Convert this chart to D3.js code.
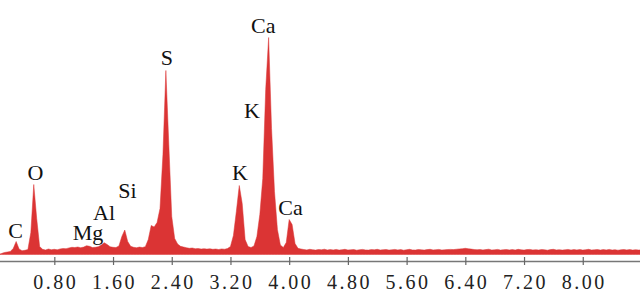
<!DOCTYPE html>
<html>
<head>
<meta charset="utf-8">
<script src="https://cdn.jsdelivr.net/npm/d3@7"></script>
<style>
  html, body { margin: 0; padding: 0; background: #fff; }
  svg { display: block; }
</style>
</head>
<body>
<div id="chart"></div>
<script>
// EDS spectrum, counts per 0.04 keV channel starting at 0 keV
const channelWidth = 0.04;
const counts = [
  0, 0, 10, 20, 25, 30, 60, 130, 55, 38,
  42, 50, 220, 700, 360, 80, 52, 45, 55, 48,
  52, 47, 56, 60, 58, 66, 72, 70, 75, 68,
  74, 88, 82, 70, 72, 78, 95, 118, 100, 78,
  72, 70, 85, 180, 245, 130, 82, 72, 68, 74,
  70, 78, 150, 290, 275, 320, 460, 1000, 1840, 1100,
  380, 160, 105, 82, 75, 68, 62, 65, 58, 60,
  55, 58, 54, 57, 52, 55, 50, 56, 53, 60,
  80, 190, 430, 690, 510, 150, 80, 70, 85, 180,
  400, 760, 1650, 2170, 1260, 630, 250, 95, 70, 120,
  350, 300, 110, 62, 55, 50, 46, 52, 48, 44,
  50, 47, 53, 45, 49, 46, 51, 44, 48, 52,
  45, 47, 50, 43, 48, 51, 46, 44, 49, 47,
  52, 45, 48, 50, 44, 47, 51, 46, 49, 43,
  48, 52, 46, 45, 50, 47, 44, 49, 52, 46,
  48, 51, 45, 47, 50, 51, 49, 53, 56, 58,
  62, 58, 54, 50, 48, 50, 46, 49, 53, 45,
  47, 51, 44, 48, 50, 46, 49, 45, 52, 47,
  44, 49, 51, 46, 48, 45, 50, 47, 43, 49,
  52, 46, 48, 44, 47, 51, 45, 49, 46, 50,
  44, 48, 52, 45, 47, 50, 44, 49, 46, 51,
  45, 48, 43, 47, 50, 46, 49, 44, 48, 45,
  47
];

// x axis ticks (keV)
const tickValues = [0.8, 1.6, 2.4, 3.2, 4.0, 4.8, 5.6, 6.4, 7.2, 8.0];

// element labels, placed at (energy, count) of the text baseline
const labelNames = ['C', 'O', 'Mg', 'Al', 'Si', 'S', 'K', 'Ca', 'K', 'Ca'];
const labelEnergies = [0.271, 0.544, 1.259, 1.477, 1.797, 2.335, 3.330, 3.648, 3.494, 4.018];
const labelCounts = [165, 745, 145, 345, 565, 1895, 745, 2215, 1365, 395];

const width = 640, height = 307;
const red = '#db3434';

const svg = d3.select('#chart').append('svg')
  .attr('width', width)
  .attr('height', height);

const xScale = d3.scaleLinear().domain([0, 8.78]).range([-4.4, 640]);
const yScale = d3.scaleLinear().domain([0, 2200]).range([254.5, 34.5]);

const area = d3.area()
  .x((d, i) => xScale(i * channelWidth))
  .y0(yScale(0))
  .y1(d => yScale(d));

svg.append('path')
  .datum(counts)
  .attr('d', area)
  .attr('fill', red)
  .attr('stroke', red)
  .attr('stroke-width', 0.5);

// axis
const axisY = 261;
const xAxis = svg.append('g')
  .attr('transform', `translate(0,${axisY})`)
  .call(d3.axisBottom(xScale)
    .tickValues(tickValues)
    .tickFormat(d3.format('.2f'))
    .tickSizeOuter(0));

xAxis.select('.domain')
  .attr('stroke', '#777')
  .attr('stroke-width', 1.5);

xAxis.selectAll('.tick line')
  .attr('y1', -4)
  .attr('y2', 4)
  .attr('stroke', '#666')
  .attr('stroke-width', 1.2);

xAxis.selectAll('.tick text')
  .attr('x', 1)
  .attr('y', 28)
  .attr('dy', 0)
  .attr('fill', '#222')
  .attr('font-family', '"Liberation Serif", "DejaVu Serif", serif')
  .attr('font-size', '20px')
  .attr('letter-spacing', '2.5px');

// peak labels
svg.append('g')
  .selectAll('text')
  .data(labelNames)
  .join('text')
  .attr('x', (d, i) => xScale(labelEnergies[i]))
  .attr('y', (d, i) => yScale(labelCounts[i]))
  .attr('text-anchor', 'middle')
  .attr('fill', '#111')
  .attr('font-family', '"Liberation Serif", "DejaVu Serif", serif')
  .attr('font-size', '22px')
  .text(d => d);
</script>
</body>
</html>
